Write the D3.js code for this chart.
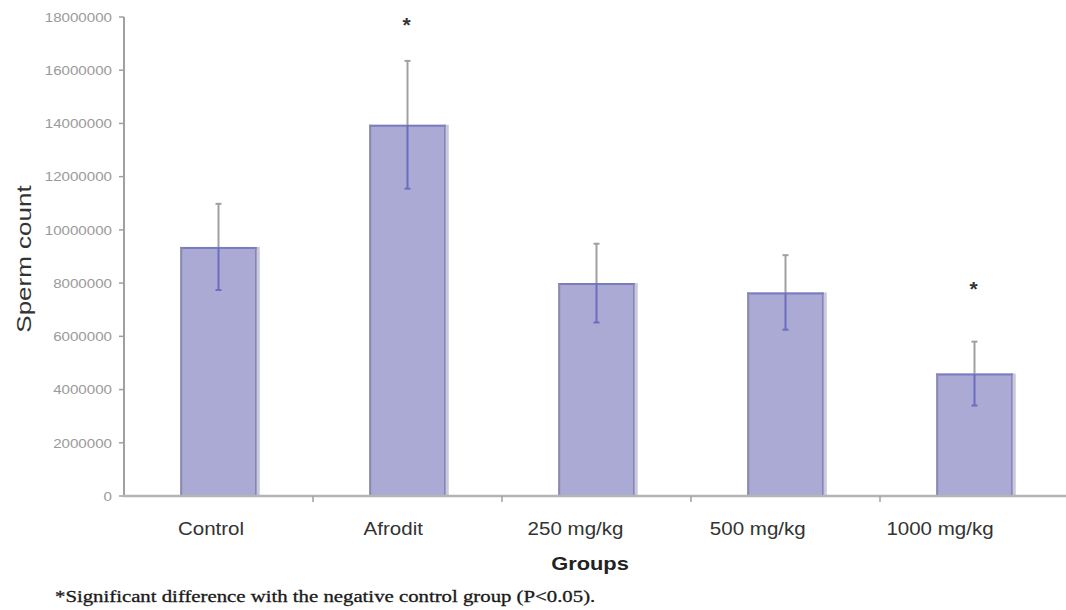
<!DOCTYPE html>
<html>
<head>
<meta charset="utf-8">
<script src="https://cdn.jsdelivr.net/npm/d3@7"></script>
<style>
html,body{margin:0;padding:0;background:#fff;}
svg{display:block;}
</style>
</head>
<body>
<script>
const categories = ["Control", "Afrodit", "250 mg/kg", "500 mg/kg", "1000 mg/kg"];
const means = [9360000, 13950000, 8000000, 7650000, 4600000];
const errors = [1620000, 2400000, 1480000, 1400000, 1200000];
const starLevels = [null, 17800000, null, null, 7900000];
const yTicks = [0, 2000000, 4000000, 6000000, 8000000, 10000000, 12000000, 14000000, 16000000, 18000000];

const W = 1066, H = 610;
const svg = d3.select("body").append("svg").attr("width", W).attr("height", H);

const x = d3.scaleBand().domain(categories).range([124, 1069]).padding(0);
const xLab = d3.scalePoint().domain(categories).range([211, 940]);
const y = d3.scaleLinear().domain([0, 18000000]).range([496, 17]);
const barW = x.bandwidth() * 0.405;

// bars
const g = svg.append("g");
categories.forEach((c, i) => {
  const cx = x(c) + x.bandwidth() / 2;
  const x0 = cx - barW / 2, x1 = cx + barW / 2;
  const yt = y(means[i]), yb = y(0);
  g.append("rect").attr("x", x1).attr("y", yt).attr("width", 3).attr("height", yb - yt).attr("fill", "#c9c9dc");
  g.append("rect").attr("x", x0).attr("y", yt).attr("width", barW).attr("height", yb - yt)
    .attr("fill", "#aaaad5");
  g.append("line").attr("x1", x0).attr("x2", x1).attr("y1", yt + 1).attr("y2", yt + 1).attr("stroke", "#7b7bc0").attr("stroke-width", 2);
  g.append("line").attr("x1", x0 + 1).attr("x2", x0 + 1).attr("y1", yt).attr("y2", yb).attr("stroke", "#8a8ab0").attr("stroke-width", 2);
  g.append("line").attr("x1", x1 - 1).attr("x2", x1 - 1).attr("y1", yt).attr("y2", yb).attr("stroke", "#8585b8").attr("stroke-width", 1.5);
  const eTop = y(means[i] + errors[i]), eBot = y(means[i] - errors[i]);
  g.append("line").attr("x1", cx).attr("x2", cx).attr("y1", eTop).attr("y2", yt).attr("stroke", "#a0a0a0").attr("stroke-width", 2);
  g.append("line").attr("x1", cx - 3).attr("x2", cx + 3).attr("y1", eTop).attr("y2", eTop).attr("stroke", "#a0a0a0").attr("stroke-width", 2);
  g.append("line").attr("x1", cx).attr("x2", cx).attr("y1", yt).attr("y2", eBot).attr("stroke", "#6d6dc0").attr("stroke-width", 2);
  g.append("line").attr("x1", cx - 3).attr("x2", cx + 3).attr("y1", eBot).attr("y2", eBot).attr("stroke", "#6d6dc0").attr("stroke-width", 2);
  if (starLevels[i] !== null) {
    g.append("text").attr("x", cx - 1).attr("y", y(starLevels[i]) + 10).attr("text-anchor", "middle")
      .attr("font-family", "Liberation Sans, Arial, sans-serif").attr("font-size", 21).attr("font-weight", "bold").attr("fill", "#333").text("*");
  }
});

// y axis
svg.append("line").attr("x1", 124).attr("x2", 124).attr("y1", 17).attr("y2", 497).attr("stroke", "#a0a0a0").attr("stroke-width", 2);
yTicks.forEach(t => {
  svg.append("line").attr("x1", 119).attr("x2", 124).attr("y1", y(t)).attr("y2", y(t)).attr("stroke", "#a0a0a0").attr("stroke-width", 1.5);
  svg.append("text").attr("transform", `translate(112,${y(t) + 4.8}) scale(1.12,1)`).attr("text-anchor", "end")
    .attr("font-family", "Liberation Sans, Arial, sans-serif").attr("font-size", 13.5).attr("fill", "#9a9a9a").text(t);
});

// x axis
svg.append("line").attr("x1", 123).attr("x2", 1066).attr("y1", 496).attr("y2", 496).attr("stroke", "#b4b4b4").attr("stroke-width", 2.5);
categories.forEach((c, i) => {
  if (i > 0) {
    svg.append("line").attr("x1", x(c)).attr("x2", x(c)).attr("y1", 496).attr("y2", 502).attr("stroke", "#a0a0a0").attr("stroke-width", 1.5);
  }
  svg.append("text").attr("transform", `translate(${xLab(c)},535) scale(1.14,1)`).attr("text-anchor", "middle")
    .attr("font-family", "Liberation Sans, Arial, sans-serif").attr("font-size", 18).attr("fill", "#333").text(c);
});

// axis titles
svg.append("text").attr("transform", "translate(590,570) scale(1.15,1)").attr("text-anchor", "middle")
  .attr("font-family", "Liberation Sans, Arial, sans-serif").attr("font-size", 19).attr("font-weight", "bold").attr("fill", "#222").text("Groups");
svg.append("text").attr("transform", "translate(31,259) rotate(-90) scale(1.3,1)").attr("text-anchor", "middle")
  .attr("font-family", "Liberation Sans, Arial, sans-serif").attr("font-size", 20).attr("fill", "#333").text("Sperm count");

// footnote
svg.append("text").attr("transform", "translate(55,602) scale(1.26,1)")
  .attr("font-family", "Liberation Serif, Times New Roman, serif").attr("font-size", 16.5).attr("fill", "#1a1a1a")
  .attr("stroke", "#1a1a1a").attr("stroke-width", 0.3)
  .text("*Significant difference with the negative control group (P<0.05).");
</script>
</body>
</html>
